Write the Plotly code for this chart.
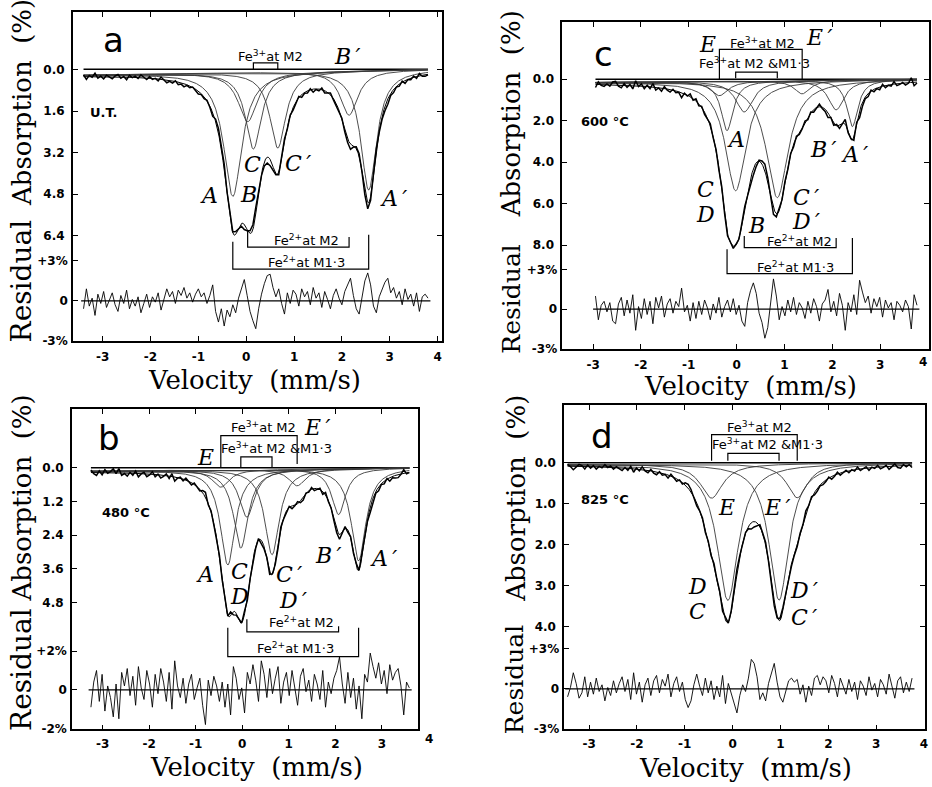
import numpy as np
import plotly.graph_objects as go

W, H = 932, 787
VEL_STEP = 0.06   # mm/s between plotted channels

# ---------------- panel a : untreated (U.T.) ----------------
a_names = ["A", "A′", "B", "B′", "C", "C′"]
a_center = [-0.28, 2.56, 0.03, 2.15, 0.15, 0.66]
a_depth = [4.76, 4.60, 1.90, 1.71, 2.95, 2.93]
a_hwhm = [0.23, 0.20, 0.24, 0.22, 0.20, 0.20]
a_base = [0.22, 0.00]
a_noise = 0.12
a_vstart = -3.40
a_resid = [
    -0.6, 0.9, -0.4, 0.2, -1.1, 0.5, -0.2, 0.7, -0.5, 0.1,
    0.6, -0.3, -0.8, 0.4, -0.2, 0.8, -0.6, 0.1, -0.4, 0.3,
    -0.9, -0.2, 0.5, -0.5, 0.3, -0.1, 0.6, -0.7, 0.2, 0.9,
    0.3, 0.7, -0.2, 0.8, 0.4, 1.0, 0.2, 0.6, -0.1, 0.5,
    0.9, 0.3, 0.6, -0.2, 0.4, 1.2, -0.8, -1.6, -0.6, -1.9,
    -0.7, -1.2, -0.3, -0.9, 0.2, 0.9, 1.6, 0.4, -0.8, -1.5,
    -2.1, -0.6, 0.5, 1.3, 1.9, 2.0, 1.0, 0.3, 0.9, -0.2,
    -1.0, 0.6, -0.2, 0.8, 0.5, -0.4, 0.9, 0.3, 0.7, -0.3,
    1.0, 0.2, 0.6, -0.5, 0.7, 0.1, -0.6, 0.4, 0.9, 0.2,
    -0.3, 0.7, 1.2, 1.7, 0.4, -0.6, -1.0, 0.2, 1.5, 2.1,
    1.2, -0.4, -0.9, 0.3, 0.8, 1.4, 1.7, 0.6, 1.0, 0.2,
    0.7, -0.3, 0.9, 0.1, 0.5, -0.4, 0.6, -0.8, 0.3, 0.5, 0.2]
a_abs_ticks = [0.0, 1.6, 3.2, 4.8, 6.4]
a_res_ticks = [-3, 0, 3]
a_vel_ticks = [-3, -2, -1, 0, 1, 2, 3, 4]

# ---------------- panel b : 480 °C ----------------
b_names = ["A", "A′", "B", "B′", "C", "C′", "E", "E′"]
b_center = [-0.31, 2.50, 0.10, 2.07, -0.03, 0.64, -0.46, 1.18]
b_depth = [3.40, 3.30, 1.70, 1.64, 2.80, 3.05, 0.62, 0.60]
b_hwhm = [0.19, 0.19, 0.20, 0.18, 0.19, 0.19, 0.22, 0.22]
b_base = [0.12, 0.00]
b_noise = 0.10
b_vstart = -3.25
b_resid = [
    -0.9, 0.4, 1.0, -0.6, 0.8, -1.1, 0.2, -0.4, -1.4, 0.3,
    -1.5, 0.9, 0.2, 1.1, -0.3, 0.7, -0.8, 1.2, 0.1, -0.5,
    1.0, 0.3, -0.9, 0.8, -0.2, 1.1, 0.4, -0.6, 0.9, -1.0,
    1.5, 0.2, -0.4, 0.6, -0.7, 0.3, 0.8, -0.5, 0.1, 0.6,
    -0.8, -1.8, 0.5, -0.3, 0.7, 0.2, -0.6, 0.4, -0.9, 0.3,
    -1.3, 1.2, 0.6, -0.5, 0.1, -1.2, 0.9, 0.3, 1.3, 0.5,
    -0.6, 1.5, 0.8, -0.4, 1.1, -0.2, 0.6, 1.2, -0.7, 0.4,
    0.9, -0.3, 1.0, 0.2, -0.8, 0.7, 1.1, -0.1, 0.5, -0.6,
    0.8, 0.3, -0.5, 1.0, -0.9, 0.4, -0.2, 0.6, 1.0, 1.7,
    0.3, -0.7, 0.9, -0.4, 0.6, -1.0, 0.2, -1.5, 0.8, 0.4,
    1.9, 1.2, 0.6, 1.4, 0.3, 1.0, -0.2, 1.3, 0.5, 0.9,
    1.1, 0.2, -1.3, 0.4, 0.1]
b_abs_ticks = [0.0, 1.2, 2.4, 3.6, 4.8]
b_res_ticks = [-2, 0, 2]
b_vel_ticks = [-3, -2, -1, 0, 1, 2, 3]

# ---------------- panel c : 600 °C ----------------
c_names = ["A", "A′", "B", "B′", "C", "C′", "E", "E′"]
c_center = [-0.20, 2.42, 0.16, 2.08, -0.02, 0.85, -0.36, 1.37]
c_depth = [2.39, 2.25, 1.50, 1.44, 5.30, 5.65, 0.70, 0.65]
c_hwhm = [0.15, 0.14, 0.22, 0.20, 0.26, 0.28, 0.22, 0.20]
c_base = [0.15, 0.00]
c_noise = 0.15
c_vstart = -2.95
c_resid = [
    1.0, -0.8, 0.3, 0.6, -0.2, 0.5, -0.9, -1.1, 0.4, 0.9,
    -0.5, 0.7, -0.3, 1.1, -1.6, 0.2, -0.7, 0.8, -0.4, 0.6,
    -1.1, 0.9, 0.1, 1.0, -0.6, 0.4, 0.8, -0.3, 0.6, 0.2,
    1.6, -0.2, 0.3, -0.9, 0.5, -0.7, 0.6, -0.4, 0.7, 0.1,
    -0.8, 0.4, -0.3, 0.9, -0.6, 0.2, 0.7, -0.2, 0.8, -0.4,
    0.3, -0.9, -1.3, 0.5, 1.4, 2.0, 1.2, -0.3, -1.0, -2.2,
    -1.4, 0.6, 2.3, 1.0, -0.8, 0.2, -0.5, 0.7, -0.2, 0.9,
    -0.4, 0.5, 0.1, -0.7, 0.6, -0.3, 0.8, 0.2, -0.9, 0.4,
    0.7, 1.5, -0.2, 0.6, -0.5, 1.2, 0.3, -1.6, 0.5, -0.2,
    1.1, -0.4, 2.2, 1.3, 0.5, 1.0, -0.3, 0.8, 0.2, 0.9,
    -0.6, 0.7, 0.1, 0.5, -0.8, 0.6, 0.3, -0.2, 0.7, 0.2,
    -1.5, 1.1, 0.3]
c_abs_ticks = [0.0, 2.0, 4.0, 6.0, 8.0]
c_res_ticks = [-3, 0, 3]
c_vel_ticks = [-3, -2, -1, 0, 1, 2, 3, 4]

# ---------------- panel d : 825 °C ----------------
d_names = ["D", "D′", "E", "E′"]
d_center = [-0.10, 0.97, -0.44, 1.35]
d_depth = [3.34, 3.34, 0.84, 0.84]
d_hwhm = [0.27, 0.25, 0.28, 0.26]
d_base = [0.04, 0.00]
d_noise = 0.07
d_vstart = -3.45
d_resid = [
    -0.6, 0.1, 1.2, 0.4, -0.7, -0.3, 0.9, -0.6, 0.5, -0.4,
    0.8, -0.2, 0.3, -0.9, 0.1, -0.5, 0.6, -0.3, 0.4, 0.9,
    -0.2, 0.7, -0.8, 1.2, -0.4, 0.5, -1.0, 0.3, 0.8, -0.5,
    0.6, 1.0, -0.3, 0.7, 0.2, 1.1, -0.6, 0.4, 0.9, -0.2,
    0.5, -0.8, -1.4, -0.9, 0.3, 1.1, 0.2, -0.5, 0.8, -0.3,
    0.6, -0.8, 0.2, -0.6, 1.0, -1.1, 0.4, -0.4, -1.2, -1.8,
    -0.5, 0.3, -0.2, 0.8, 2.2, 1.9, 0.9, -0.8, -0.3, -0.9,
    0.4, 1.2, 1.9, 0.5, -0.6, -1.0, -0.2, 0.6, 0.8, 0.5,
    0.7, -0.4, 0.3, -1.0, 0.2, -0.5, 0.8, 1.0, 0.3, 0.9,
    0.6, -0.3, 1.0, 0.4, -0.6, 0.8, 0.2, -0.4, 0.7, -0.2,
    0.5, -0.8, 0.6, 0.2, -0.5, 0.9, -0.1, 0.4, -0.6, 0.7,
    0.3, -0.4, 1.1, 0.2, -0.7, 0.6, 0.9, -0.3, 0.5, -0.2, 0.8]
d_abs_ticks = [0.0, 1.0, 2.0, 3.0, 4.0]
d_res_ticks = [-3, 0, 3]
d_vel_ticks = [-3, -2, -1, 0, 1, 2, 3, 4]

# ---------------- layout (pixels of the 932x787 page) ----------------
FE3_M2 = "Fe<sup>3+</sup>at M2"
FE3_MIX = "Fe<sup>3+</sup>at M2 &amp;M1·3"
FE2_M2 = "Fe<sup>2+</sup>at M2"
FE2_M13 = "Fe<sup>2+</sup>at M1·3"

panels = [
    dict(names=a_names, center=a_center, depth=a_depth, hwhm=a_hwhm, base=a_base,
         noise=a_noise, vstart=a_vstart, resid=a_resid, abs_ticks=a_abs_ticks,
         res_ticks=a_res_ticks, vel_ticks=a_vel_ticks,
         frame=(73, 443, 12, 344), vpx=(247, 48.0), apx=(70, 26.25), rpx=(303.5, 13.4),
         letter=("a", -2.77, -1.14), temp=("U.T.", -3.31, 1.64),
         ytitle=((22, 103), (22, 283), 28), vtitle=(255, 383), xstand=4,
         brackets=[(4, 5, -0.25, 0.0, 0.0, FE3_M2, 0.50, -0.50),
                   (2, 3, 6.83, 6.17, 6.44, FE2_M2, 1.27, 6.55),
                   (0, 1, 7.68, 6.63, 6.36, FE2_M13, 1.25, 7.39)],
         labels=[("A", -0.77, 4.84), ("B", 0.04, 4.80), ("C", 0.125, 3.66),
                 ("C\u2009′", 1.08, 3.62), ("A\u2009′", 3.08, 4.95), ("B\u2009′", 2.125, -0.50)]),
    dict(names=b_names, center=b_center, depth=b_depth, hwhm=b_hwhm, base=b_base,
         noise=b_noise, vstart=b_vstart, resid=b_resid, abs_ticks=b_abs_ticks,
         res_ticks=b_res_ticks, vel_ticks=b_vel_ticks,
         frame=(72, 419, 413, 736), vpx=(243, 46.7), apx=(472, 28.3), rpx=(696, 19.5),
         letter=("b", -2.87, -1.06), temp=("480 °C", -3.06, 1.59),
         ytitle=((22, 502), (22, 675), 28), vtitle=(257, 774), xstand=2,
         brackets=[(6, 7, -1.15, 0.0, -0.14, FE3_M2, 0.45, -1.45),
                   (4, 5, -0.39, -0.03, -0.03, FE3_MIX, 0.73, -0.70),
                   (2, 3, 5.85, 5.40, 5.65, FE2_M2, 1.27, 5.50),
                   (0, 1, 6.73, 5.70, 5.70, FE2_M13, 1.15, 6.42)],
         labels=[("A", -0.81, 3.82), ("C", -0.06, 3.70), ("D", -0.06, 4.60),
                 ("C\u2009′", 1.01, 3.80), ("D\u2009′", 1.09, 4.72), ("B\u2009′", 1.86, 3.11),
                 ("A\u2009′", 3.04, 3.25), ("E", -0.79, -0.35), ("E\u2009′", 1.60, -1.45)]),
    dict(names=c_names, center=c_center, depth=c_depth, hwhm=c_hwhm, base=c_base,
         noise=c_noise, vstart=c_vstart, resid=c_resid, abs_ticks=c_abs_ticks,
         res_ticks=c_res_ticks, vel_ticks=c_vel_ticks,
         frame=(564, 931.5, 22, 352), vpx=(739, 48.0), apx=(80, 20.9), rpx=(312, 13.3),
         letter=("c", -2.79, -1.20), temp=("600 °C", -3.29, 2.06),
         ytitle=((513, 115), (513, 302), 25), vtitle=(753, 389), xstand=4,
         brackets=[(6, 7, -1.44, 0.0, 0.0, FE3_M2, 0.54, -1.77),
                   (4, 5, -0.35, -0.05, -0.05, FE3_MIX, 0.375, -0.79),
                   (2, 3, 8.13, 7.57, 7.66, FE2_M2, 1.31, 7.80),
                   (0, 1, 9.38, 8.21, 7.66, FE2_M13, 1.23, 9.04)],
         labels=[("A", -0.02, 2.92), ("B\u2009′", 1.81, 3.40), ("A\u2009′", 2.46, 3.64),
                 ("C", -0.65, 5.31), ("D", -0.65, 6.51), ("C\u2009′", 1.44, 5.70),
                 ("D\u2009′", 1.46, 6.85), ("B", 0.42, 7.08), ("E", -0.60, -1.67),
                 ("E\u2009′", 1.73, -2.01)]),
    dict(names=d_names, center=d_center, depth=d_depth, hwhm=d_hwhm, base=d_base,
         noise=d_noise, vstart=d_vstart, resid=d_resid, abs_ticks=d_abs_ticks,
         res_ticks=d_res_ticks, vel_ticks=d_vel_ticks,
         frame=(566, 928, 409, 736), vpx=(735, 48.0), apx=(467, 41.3), rpx=(695, 13.5),
         letter=("d", -2.73, -0.65), temp=("825 °C", -3.21, 0.90),
         ytitle=((517, 503), (517, 686), 25), vtitle=(748, 775), xstand=2,
         brackets=[(2, 3, -0.69, -0.05, -0.05, FE3_M2, 0.56, -0.87),
                   (0, 1, -0.23, -0.05, -0.05, FE3_MIX, 0.73, -0.46)],
         labels=[("E", -0.125, 1.09), ("E\u2009′", 0.92, 1.09), ("D", -0.73, 3.02),
                 ("C", -0.73, 3.64), ("D\u2009′", 1.50, 3.12), ("C\u2009′", 1.50, 3.78)]),
]

TICK_FONT = dict(family="DejaVu Sans", size=12, color="black", weight="bold")
LABEL_FONT = dict(family="DejaVu Serif", size=22, color="black", style="italic")
BRACKET_FONT = dict(family="DejaVu Sans", size=13, color="black")
TITLE_FAMILY = "DejaVu Serif"
FRAME_W = 1.6


def lorentz(v, c, d, g):
    return d / (1.0 + ((v - c) / g) ** 2)


fig = go.Figure()
layout = {}
annotations = []
shapes = []

for k, p in enumerate(panels):
    sx = "" if k == 0 else str(k + 1)
    xname = "x" + sx
    yabs = "y" + ("" if k == 0 else str(2 * k + 1))
    yres = "y" + str(2 * k + 2)

    vel = p["vstart"] + VEL_STEP * np.arange(len(p["resid"]))
    resid = np.array(p["resid"])
    vfine = np.linspace(vel[0], vel[-1], 900)

    def baseline(v):
        b0, b1 = p["base"]
        return b0 + (b1 - b0) * (v - vel[0]) / (vel[-1] - vel[0])

    comps_f = [lorentz(vfine, c, d, g) for c, d, g in zip(p["center"], p["depth"], p["hwhm"])]
    comps_d = [lorentz(vel, c, d, g) for c, d, g in zip(p["center"], p["depth"], p["hwhm"])]
    fit_f = baseline(vfine) + np.sum(comps_f, axis=0)
    spec = baseline(vel) + np.sum(comps_d, axis=0) + p["noise"] * resid

    # 0.0 reference line
    fig.add_trace(go.Scatter(x=[vel[0], vel[-1]], y=[0, 0], mode="lines",
                             line=dict(color="black", width=1.5), xaxis=xname, yaxis=yabs,
                             hoverinfo="skip"))
    for name, cf in zip(p["names"], comps_f):
        fig.add_trace(go.Scatter(x=vfine, y=baseline(vfine) + cf, mode="lines", name=name,
                                 line=dict(color="#3a3a3a", width=0.9), xaxis=xname, yaxis=yabs))
    fig.add_trace(go.Scatter(x=vfine, y=fit_f, mode="lines", name="fit",
                             line=dict(color="black", width=1.0), xaxis=xname, yaxis=yabs))
    fig.add_trace(go.Scatter(x=vel, y=spec, mode="lines", name="data",
                             line=dict(color="black", width=1.5), xaxis=xname, yaxis=yabs))
    # residuals
    fig.add_trace(go.Scatter(x=[vel[0] - 0.05, vel[-1] + 0.05], y=[0, 0], mode="lines",
                             line=dict(color="black", width=1.2), xaxis=xname, yaxis=yres,
                             hoverinfo="skip"))
    fig.add_trace(go.Scatter(x=vel, y=resid, mode="lines", name="residual",
                             line=dict(color="black", width=0.9), xaxis=xname, yaxis=yres))

    # axes
    x0, x1, ytop, ybot = p["frame"]
    v0px, vs = p["vpx"]
    a0px, as_ = p["apx"]
    r0px, rs = p["rpx"]
    xr = [(x0 - v0px) / vs, (x1 - v0px) / vs]
    ar = [(ybot - a0px) / as_, (ytop - a0px) / as_]
    rr = [(r0px - ybot) / rs, (r0px - ytop) / rs]
    dom_x = [x0 / W, x1 / W]
    dom_y = [1 - ybot / H, 1 - ytop / H]

    layout["xaxis" + sx] = dict(domain=dom_x, range=xr, anchor=yabs, showline=True,
                                linecolor="black", linewidth=FRAME_W, mirror="ticks",
                                ticks="inside", ticklen=5, tickwidth=1.3, tickcolor="black",
                                tickvals=p["vel_ticks"], ticktext=[str(v) for v in p["vel_ticks"]],
                                tickfont=TICK_FONT, showgrid=False, zeroline=False,
                                ticklabelstandoff=p["xstand"], fixedrange=True)
    layout["yaxis" + ("" if k == 0 else str(2 * k + 1))] = dict(
        domain=dom_y, range=ar, anchor=xname, showline=True, linecolor="black",
        linewidth=FRAME_W, mirror="ticks", ticks="inside", ticklen=5, tickwidth=1.3,
        tickcolor="black", tickvals=p["abs_ticks"],
        ticktext=[f"{v:.1f}" for v in p["abs_ticks"]], tickfont=TICK_FONT,
        showgrid=False, zeroline=False, ticklabelstandoff=4, fixedrange=True)
    layout["yaxis" + str(2 * k + 2)] = dict(
        overlaying=yabs, anchor=xname, side="left", range=rr, showline=False,
        ticks="inside", ticklen=5, tickwidth=1.3, tickcolor="black",
        tickvals=p["res_ticks"],
        ticktext=[("0" if v == 0 else f"{v:+d}%") for v in p["res_ticks"]],
        tickfont=TICK_FONT, showgrid=False, zeroline=False, ticklabelstandoff=4,
        fixedrange=True)

    # brackets linking the two lines of each doublet
    for i, j, yl, e0, e1, txt, tv, ta in p["brackets"]:
        c0, c1 = p["center"][i], p["center"][j]
        shapes.append(dict(type="path", xref=xname, yref=yabs,
                           path=f"M {c0},{e0} L {c0},{yl} L {c1},{yl} L {c1},{e1}",
                           line=dict(color="black", width=1.2)))
        annotations.append(dict(x=tv, y=ta, xref=xname, yref=yabs, text=txt, showarrow=False,
                                font=BRACKET_FONT, xanchor="center", yanchor="middle"))
    for txt, lv, la in p["labels"]:
        annotations.append(dict(x=lv, y=la, xref=xname, yref=yabs, text=txt, showarrow=False,
                                font=LABEL_FONT, xanchor="center", yanchor="middle"))
    lt, lv, la = p["letter"]
    annotations.append(dict(x=lv, y=la, xref=xname, yref=yabs, text=lt, showarrow=False,
                            font=dict(family="DejaVu Sans", size=34, color="black"),
                            xanchor="center", yanchor="middle"))
    tt, tv, ta = p["temp"]
    annotations.append(dict(x=tv, y=ta, xref=xname, yref=yabs, text=tt, showarrow=False,
                            font=dict(family="DejaVu Sans", size=13, color="black", weight="bold"),
                            xanchor="left", yanchor="middle"))
    (axp, ayp), (rxp, ryp), rsize = p["ytitle"]
    annotations.append(dict(x=axp / W, y=1 - ayp / H, xref="paper", yref="paper",
                            text="Absorption  (%)", textangle=-90, showarrow=False,
                            font=dict(family=TITLE_FAMILY, size=26, color="black"),
                            xanchor="center", yanchor="middle"))
    annotations.append(dict(x=rxp / W, y=1 - ryp / H, xref="paper", yref="paper",
                            text="Residual", textangle=-90, showarrow=False,
                            font=dict(family=TITLE_FAMILY, size=rsize, color="black"),
                            xanchor="center", yanchor="middle"))
    vxp, vyp = p["vtitle"]
    annotations.append(dict(x=vxp / W, y=1 - vyp / H, xref="paper", yref="paper",
                            text="Velocity  (mm/s)", showarrow=False,
                            font=dict(family=TITLE_FAMILY, size=26, color="black"),
                            xanchor="center", yanchor="middle"))

# tick labels "4" that sit at / beyond a frame edge (panels b and c)
annotations.append(dict(x=430 / W, y=1 - 746 / H, xref="paper", yref="paper", text="4",
                        showarrow=False, font=TICK_FONT, xanchor="center", yanchor="middle"))
annotations.append(dict(x=1.0, y=1 - 365 / H, xref="paper", yref="paper", text="4",
                        showarrow=False, font=TICK_FONT, xanchor="right", yanchor="middle"))

fig.update_layout(**layout)
fig.update_layout(width=W, height=H, margin=dict(l=0, r=0, t=0, b=0),
                  paper_bgcolor="white", plot_bgcolor="white", showlegend=False,
                  annotations=annotations, shapes=shapes)
fig.write_html("out.html")
